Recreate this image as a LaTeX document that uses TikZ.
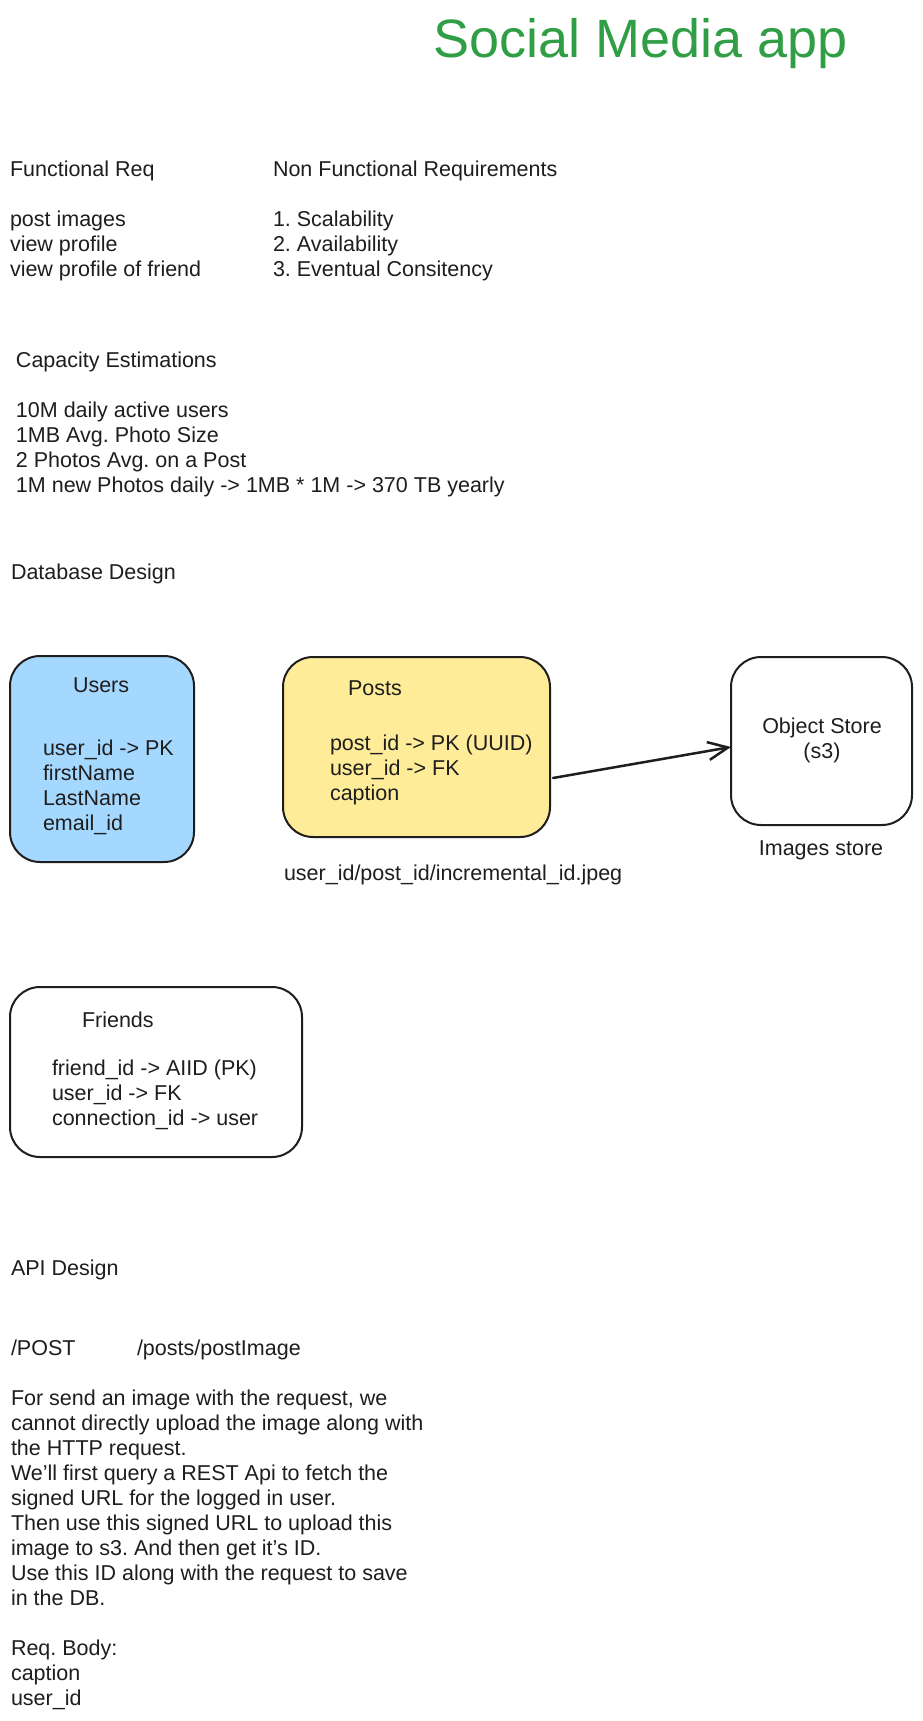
\documentclass[tikz,border=0pt]{standalone}
\usepackage{fontspec}
\setmainfont{Liberation Sans}
\usetikzlibrary{arrows.meta}
\definecolor{ink}{HTML}{1E1E1E}
\definecolor{ublue}{HTML}{A5D8FF}
\definecolor{pyellow}{HTML}{FFEC99}
\definecolor{tgreen}{HTML}{2F9E44}
\frenchspacing
\begin{document}
\begin{tikzpicture}[x=1pt,y=1pt,
  txt/.style={inner sep=0pt, outer sep=0pt, text=ink, font=\fontsize{21.5}{25}\selectfont, anchor=north west, align=left},
  ctxt/.style={txt, anchor=north, align=center},
  box/.style={draw=ink, line width=2pt, rounded corners=30pt, inner sep=0pt, outer sep=0pt},
  link/.style={draw=ink, line width=2.5pt, line cap=round, -{Straight Barb[length=20pt,width=18pt]}}
]
\fill[white] (0,0) rectangle (922,-1721);
\useasboundingbox (0,0) rectangle (922,-1721);

% title
\node[inner sep=0pt, anchor=base west, text=tgreen, font=\fontsize{54}{60}\selectfont] (title) at (433,-57) {Social Media app};

% requirements
\node[txt] (freq) at (10,-158.5) {\strut Functional Req\\[25pt] post images\\ view profile\\ view profile of friend};
\node[txt] (nfreq) at (273,-158.5) {\strut Non Functional Requirements\\[25pt] 1. Scalability\\ 2. Availability\\ 3. Eventual Consitency};

% capacity
\node[txt] (cap) at (16,-349.5) {\strut Capacity Estimations\\[25pt] 10M daily active users\\ 1MB Avg. Photo Size\\ 2 Photos Avg. on a Post\\ 1M new Photos daily -> 1MB * 1M -> 370 TB yearly};

% database design
\node[txt] (dbd) at (11,-561.5) {\strut Database Design};

\node[box, fill=ublue, minimum width=184pt, minimum height=206pt] (users) at (102,-759) {};
\node[box, fill=pyellow, minimum width=267pt, minimum height=180pt] (posts) at (416.5,-747) {};
\node[box, fill=white, minimum width=181pt, minimum height=168pt] (store) at (821.5,-741) {};
\node[box, fill=white, minimum width=292pt, minimum height=170pt] (friends) at (156,-1072) {};

\node[txt] (userst) at (73,-674.5) {\strut Users};
\node[txt] (usersf) at (43,-737.5) {\strut user\_id -> PK\\ firstName\\ LastName\\ email\_id};

\node[txt] (postst) at (348,-677.5) {\strut Posts};
\node[txt] (postsf) at (330,-732.5) {\strut post\_id -> PK (UUID)\\ user\_id -> FK\\ caption};
\node[txt] (path) at (284,-862.5) {\strut user\_id/post\_id/incremental\_id.jpeg};

\node[ctxt] (storet) at (822,-715.5) {\strut Object Store\\ (s3)};
\node[ctxt] (storel) at (821,-837.5) {\strut Images store};

\draw[link] ([shift={(3pt,-31pt)}]posts.east) -- ([yshift=-6pt]store.west);

\node[txt] (friendst) at (82,-1009.5) {\strut Friends};
\node[txt] (friendsf) at (52,-1057.5) {\strut friend\_id -> AIID (PK)\\ user\_id -> FK\\ connection\_id -> user};

% API design
\node[txt] (apid) at (11,-1257.5) {\strut API Design};
\node[txt] (verb) at (11,-1337.5) {\strut /POST};
\node[txt] (route) at (137,-1337.5) {\strut /posts/postImage};
\node[txt] (para) at (11,-1387.5) {\strut For send an image with the request, we\\ cannot directly upload the image along with\\ the HTTP request.\\ We'll first query a REST Api to fetch the\\ signed URL for the logged in user.\\ Then use this signed URL to upload this\\ image to s3. And then get it's ID.\\ Use this ID along with the request to save\\ in the DB.\\[25pt] Req. Body:\\ caption\\ user\_id};
\end{tikzpicture}
\end{document}
